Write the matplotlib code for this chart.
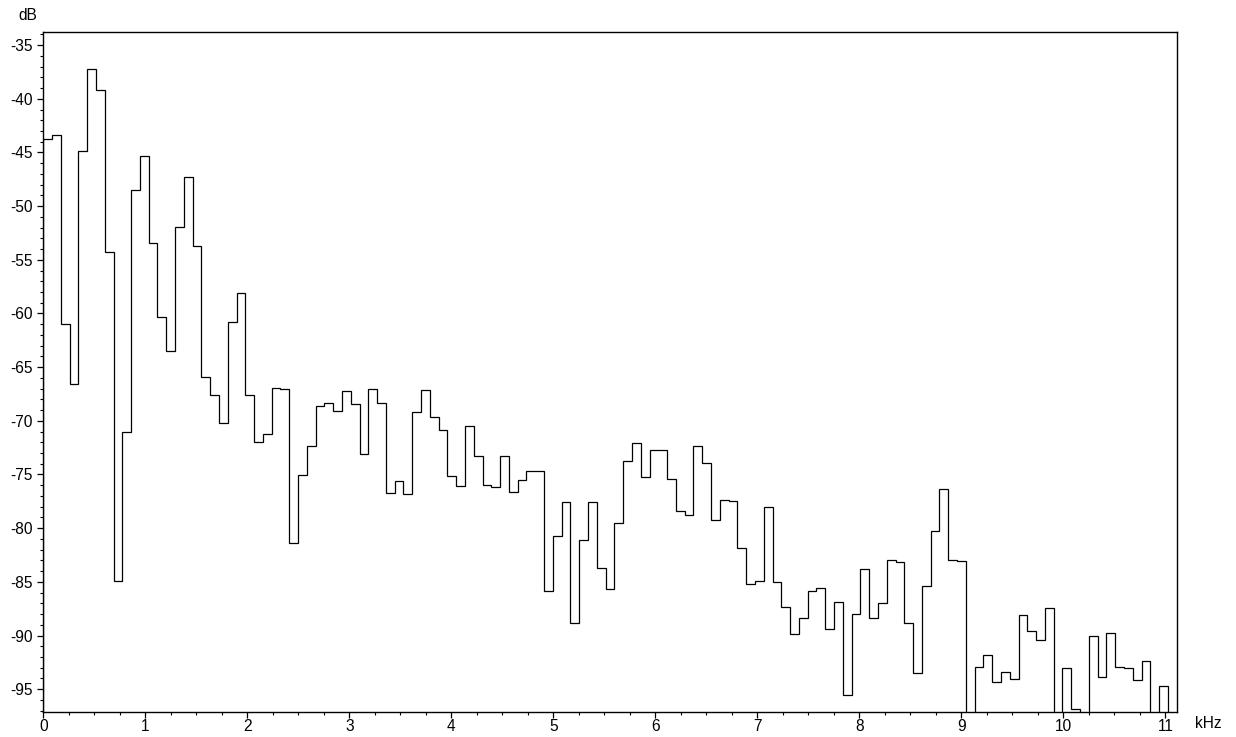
import numpy as np
import matplotlib
matplotlib.use("Agg")
import matplotlib.pyplot as plt
from matplotlib.ticker import MultipleLocator, FuncFormatter

plt.rcParams["font.family"] = ["Liberation Sans", "DejaVu Sans"]
plt.rcParams["axes.unicode_minus"] = False

# Spectrum: 128 FFT bins, 22.05 kHz sample rate, 256-point FFT
sample_rate_khz = 22.05
n_fft = 256
bin_width_khz = sample_rate_khz / n_fft

level_db = [
    -43.72, -43.35, -61.00, -66.56, -44.87, -37.20, -39.22, -54.27,
    -84.90, -71.07, -48.50, -45.37, -53.44, -60.36, -63.49, -51.95,
    -47.29, -53.72, -65.94, -67.62, -70.20, -60.75, -58.06, -67.56,
    -72.02, -71.25, -66.95, -67.05, -81.37, -75.07, -72.34, -68.64,
    -68.33, -69.05, -67.22, -68.43, -73.05, -67.00, -68.37, -76.74,
    -75.60, -76.80, -69.20, -67.15, -69.67, -70.85, -75.13, -76.10,
    -70.45, -73.30, -75.94, -76.20, -73.30, -76.65, -75.47, -74.63,
    -74.66, -85.87, -80.69, -77.58, -88.82, -81.09, -77.60, -83.70,
    -85.65, -79.50, -73.70, -72.03, -75.25, -72.74, -72.68, -75.38,
    -78.39, -78.79, -72.30, -73.89, -79.23, -77.34, -77.49, -81.87,
    -85.20, -84.90, -77.99, -85.03, -87.36, -89.84, -88.41, -85.87,
    -85.56, -89.38, -86.89, -95.58, -88.01, -83.76, -88.35, -86.99,
    -83.01, -83.17, -88.88, -93.47, -85.37, -80.22, -76.37, -82.98,
    -83.10, -99.50, -92.95, -91.83, -94.37, -93.41, -94.03, -88.10,
    -89.62, -90.43, -87.45, -98.60, -93.00, -96.86, -100.20, -90.03,
    -93.84, -89.72, -92.95, -93.07, -94.13, -92.42, -99.00, -94.68,
]

edges_khz = np.arange(len(level_db) + 1) * bin_width_khz

fig = plt.figure(figsize=(12.36, 7.37), dpi=100)
ax = fig.add_axes([0.035, 0.0343, 0.917, 0.9227])

ax.stairs(level_db, edges_khz, baseline=-130, color="black", linewidth=0.9)

ax.set_xlim(0, edges_khz[-1] + bin_width_khz)
ax.set_ylim(-97.1, -33.75)

ax.xaxis.set_major_locator(MultipleLocator(1))
ax.xaxis.set_minor_locator(MultipleLocator(0.25))
ax.yaxis.set_major_locator(MultipleLocator(5))
ax.yaxis.set_minor_locator(MultipleLocator(1))
ax.xaxis.set_major_formatter(FuncFormatter(lambda v, p: f"{v:.0f}"))
ax.yaxis.set_major_formatter(FuncFormatter(lambda v, p: f"{v:.0f}"))

ax.tick_params(axis="both", which="both", direction="out", color="black",
               labelsize=11.2, top=False, right=False)
ax.tick_params(axis="x", which="major", length=4.2, width=0.9, pad=1.0)
ax.tick_params(axis="x", which="minor", length=2.4, width=0.8)
ax.tick_params(axis="y", which="major", length=4.1, width=0.9, pad=3.3)
ax.tick_params(axis="y", which="minor", length=2.4, width=0.8)

for spine in ax.spines.values():
    spine.set_linewidth(1.0)
    spine.set_color("black")

fig.text(28 / 1236, 1 - 15 / 737, "dB", ha="center", va="center", fontsize=11.2)
fig.text(1195 / 1236, 1 - 723 / 737, "kHz", ha="left", va="center", fontsize=11.2)

fig.savefig("out.png", dpi=100, facecolor="white")
